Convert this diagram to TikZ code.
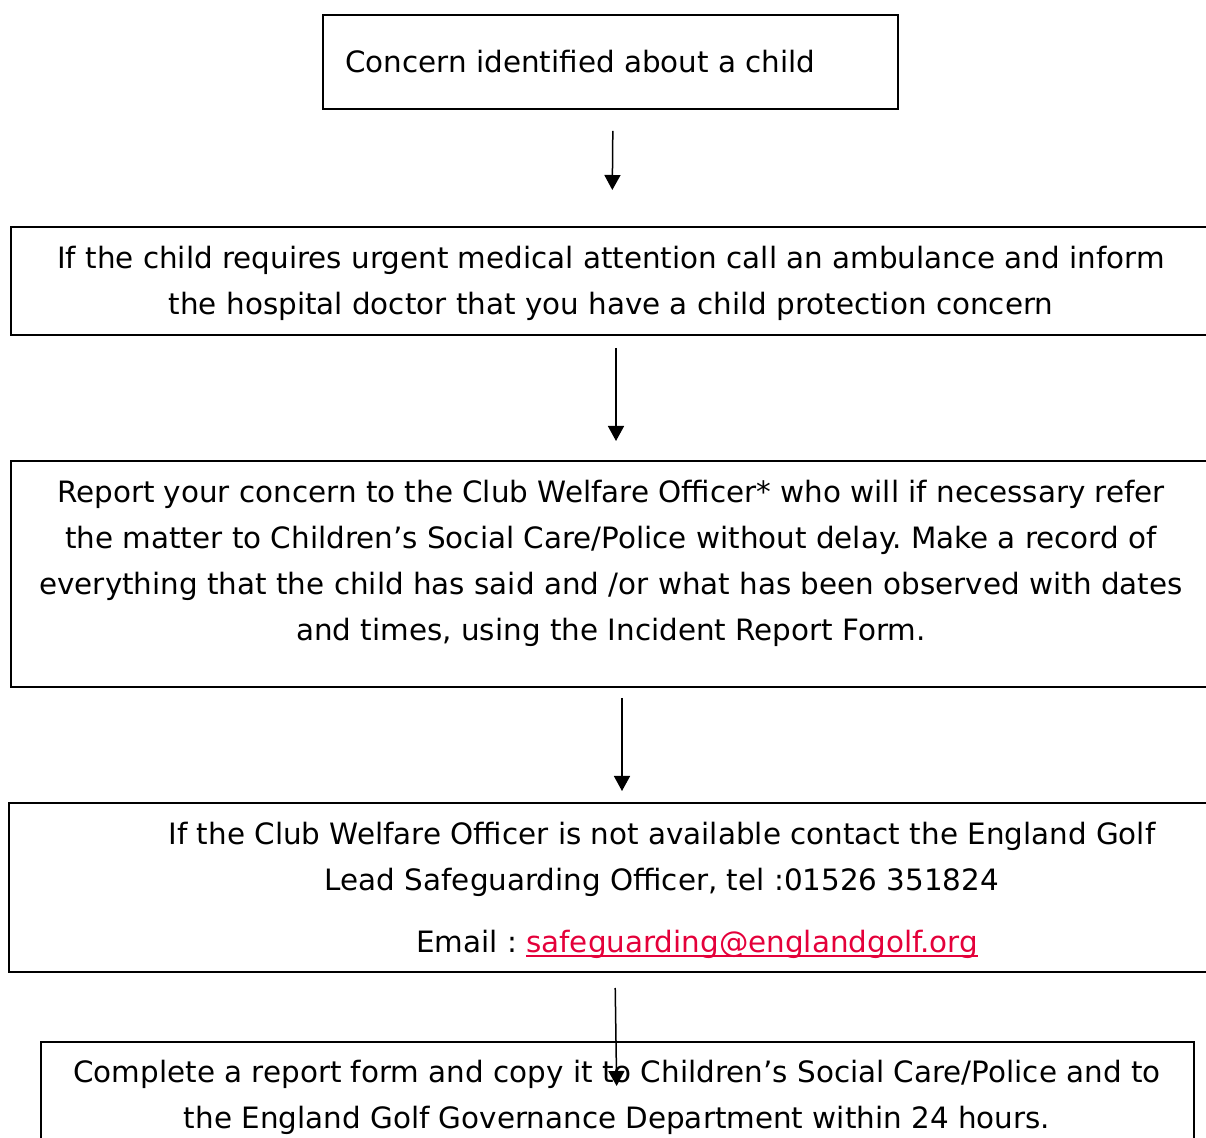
\documentclass[tikz,border=0pt]{standalone}
\usepackage{fontspec}
\setmainfont{DejaVu Sans}
\usepackage{xcolor}
\usetikzlibrary{arrows.meta}
\definecolor{emaillink}{RGB}{228, 0, 58}
\newcommand{\maillink}[1]{\textcolor{emaillink}{\setbox0\hbox{#1}\rlap{\rule[-2.5pt]{\wd0}{1.1pt}}\box0}}
\frenchspacing

\begin{document}
\begin{tikzpicture}[
    x=0.5pt, y=-0.5pt,
    box/.style={
        rectangle, draw=black, line width=1pt,
        inner sep=0pt
    },
    boxtext/.style={
        align=center, inner sep=0pt,
        font=\fontsize{14.7}{23}\selectfont
    },
    arrow/.style={
        -{Triangle[width=8pt, length=7.5pt]}, line width=0.75pt, draw=black
    }
]
\useasboundingbox (0,0) rectangle (1206,1138);
\clip (0,0) rectangle (1206,1138);

% Boxes
\node[box, minimum width=287.5pt, minimum height=47pt] (concern) at (610.5, 62) {};
\node[box, minimum width=600.5pt, minimum height=54pt] (urgent) at (611.5, 281) {};
\node[box, minimum width=600.5pt, minimum height=113pt] (report) at (611.5, 574) {};
\node[box, minimum width=601.5pt, minimum height=84.5pt] (leadofficer) at (610.5, 887.5) {};
\node[box, minimum width=576.5pt, minimum height=59pt] (complete) at (617.5, 1101) {};

% Texts
\node[boxtext, anchor=west] (concerntext) at (345, 62) {Concern identified about a child};
\node[boxtext] (urgenttext) at (611, 283) {If the child requires urgent medical attention call an ambulance and inform\\the hospital doctor that you have a child protection concern};
\node[boxtext] (reporttext) at (611, 563) {Report your concern to the Club Welfare Officer* who will if necessary refer\\the matter to Children’s Social Care/Police without delay. Make a record of\\everything that the child has said and /or what has been observed with dates\\and times, using the Incident Report Form.};
\node[boxtext] (leadtext) at (662, 890) {If the Club Welfare Officer is not available contact the England Golf\\Lead Safeguarding Officer, tel :01526 351824\\[8pt]\hspace*{35pt}Email : \maillink{safeguarding@englandgolf.org}};
\node[boxtext] (completetext) at (617, 1097) {Complete a report form and copy it to Children’s Social Care/Police and to\\the England Golf Governance Department within 24 hours.};

% Flow arrows
\draw[arrow, shorten <=10.5pt, shorten >=18pt] ([xshift=1.25pt]concern.south) -- ([xshift=0.25pt]urgent.north);
\draw[arrow, shorten <=6pt, shorten >=9.5pt] ([xshift=2.25pt]urgent.south) -- ([xshift=2.25pt]report.north);
\draw[arrow, shorten <=5pt, shorten >=5.5pt] ([xshift=5.25pt]report.south) -- ([xshift=5.75pt]leadofficer.north);
\draw[arrow, shorten <=7.5pt, shorten >=-22.5pt] ([xshift=2.25pt]leadofficer.south) -- ([xshift=-0.75pt]complete.north);

\end{tikzpicture}
\end{document}
